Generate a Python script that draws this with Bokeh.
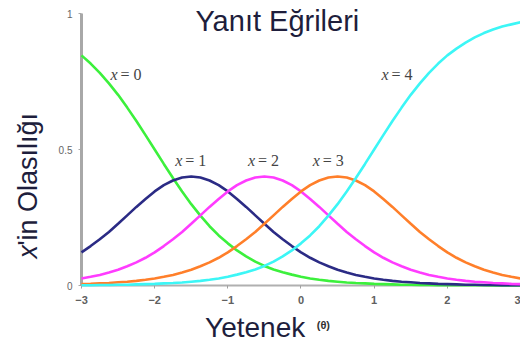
import math
from bokeh.plotting import figure
from bokeh.models import Label, Range1d, FixedTicker
from bokeh.embed import file_html
from bokeh.resources import INLINE

# Ability (theta) grid
theta = [-3.0, -2.875, -2.75, -2.625, -2.5, -2.375, -2.25, -2.125, -2.0, -1.875, -1.75, -1.625,
         -1.5, -1.375, -1.25, -1.125, -1.0, -0.875, -0.75, -0.625, -0.5, -0.375, -0.25, -0.125,
         0.0, 0.125, 0.25, 0.375, 0.5, 0.625, 0.75, 0.875, 1.0, 1.125, 1.25, 1.375, 1.5, 1.625,
         1.75, 1.875, 2.0, 2.125, 2.25, 2.375, 2.5, 2.625, 2.75, 2.875, 3.0]

# Probability of each response category
p_x0 = [0.846, 0.816, 0.782, 0.743, 0.701, 0.654, 0.605, 0.553, 0.500, 0.447, 0.395, 0.346,
        0.299, 0.257, 0.218, 0.184, 0.155, 0.129, 0.107, 0.088, 0.072, 0.059, 0.049, 0.040,
        0.032, 0.026, 0.021, 0.017, 0.014, 0.011, 0.009, 0.008, 0.006, 0.005, 0.004, 0.003,
        0.003, 0.002, 0.002, 0.001, 0.001, 0.001, 0.001, 0.001, 0.001, 0.000, 0.000, 0.000, 0.000]
p_x1 = [0.122, 0.145, 0.170, 0.197, 0.227, 0.258, 0.289, 0.318, 0.346, 0.369, 0.386, 0.397,
        0.401, 0.397, 0.386, 0.369, 0.346, 0.318, 0.289, 0.258, 0.227, 0.197, 0.170, 0.145,
        0.122, 0.102, 0.085, 0.071, 0.058, 0.048, 0.039, 0.032, 0.026, 0.021, 0.017, 0.014,
        0.012, 0.009, 0.008, 0.006, 0.005, 0.004, 0.003, 0.003, 0.002, 0.002, 0.001, 0.001, 0.001]
p_x2 = [0.026, 0.032, 0.039, 0.048, 0.058, 0.071, 0.085, 0.102, 0.122, 0.145, 0.170, 0.197,
        0.227, 0.258, 0.289, 0.318, 0.346, 0.369, 0.386, 0.397, 0.401, 0.397, 0.386, 0.369,
        0.346, 0.318, 0.289, 0.258, 0.227, 0.197, 0.170, 0.145, 0.122, 0.102, 0.085, 0.071,
        0.058, 0.048, 0.039, 0.032, 0.026, 0.021, 0.017, 0.014, 0.012, 0.009, 0.008, 0.006, 0.005]
p_x3 = [0.005, 0.006, 0.008, 0.009, 0.012, 0.014, 0.017, 0.021, 0.026, 0.032, 0.039, 0.048,
        0.058, 0.071, 0.085, 0.102, 0.122, 0.145, 0.170, 0.197, 0.227, 0.258, 0.289, 0.318,
        0.346, 0.369, 0.386, 0.397, 0.401, 0.397, 0.386, 0.369, 0.346, 0.318, 0.289, 0.258,
        0.227, 0.197, 0.170, 0.145, 0.122, 0.102, 0.085, 0.071, 0.058, 0.048, 0.039, 0.032, 0.026]
p_x4 = [0.001, 0.001, 0.002, 0.002, 0.003, 0.003, 0.004, 0.005, 0.006, 0.008, 0.009, 0.011,
        0.014, 0.017, 0.021, 0.026, 0.032, 0.040, 0.049, 0.059, 0.072, 0.088, 0.107, 0.129,
        0.155, 0.184, 0.218, 0.257, 0.299, 0.346, 0.395, 0.447, 0.500, 0.553, 0.605, 0.654,
        0.701, 0.743, 0.782, 0.816, 0.846, 0.871, 0.893, 0.912, 0.928, 0.941, 0.952, 0.960, 0.968]

series_names = ["0", "1", "2", "3", "4"]
series_values = [p_x0, p_x1, p_x2, p_x3, p_x4]
colors = ["#3cf03c", "#2b2b85", "#ff3cff", "#ff7f2a", "#3cf6f6"]

x_ticks = [-3, -2, -1, 0, 1, 2, 3]
y_ticks = [0, 0.5, 1]
y_tick_labels = {0: "0", 0.5: "0.5", 1: "1"}

title_text = "Yanıt Eğrileri"
y_label_italic = "x"
y_label_rest = "'in Olasılığı"
x_label_text = "Yetenek"
x_label_small = "(θ)"

# label anchor positions (theta, probability) for the curve annotations
label_pos = [(-2.605, 0.776), (-1.719, 0.46), (-0.725, 0.46), (0.161, 0.46), (1.101, 0.776)]

TEXT = "#1e1e3c"

# frame covers the whole canvas; axes are drawn at fixed data locations
p = figure(width=520, height=347, output_backend="svg", toolbar_location=None,
           x_range=Range1d(-4.107, 3.0), y_range=Range1d(-0.2279, 1.0478),
           min_border=0, min_border_left=0, min_border_right=0,
           min_border_top=0, min_border_bottom=0)
p.outline_line_color = None
p.grid.visible = False
p.background_fill_color = "white"
p.border_fill_color = "white"

for vals, c in zip(series_values, colors):
    p.line(theta, vals, line_color=c, line_width=2.6)

# axes styling
p.yaxis.fixed_location = -3
p.yaxis.bounds = (0, 1)
p.yaxis.level = "underlay"
p.yaxis.ticker = FixedTicker(ticks=y_ticks)
p.yaxis.major_label_overrides = y_tick_labels
p.yaxis.axis_line_color = "#a8a8a8"
p.yaxis.axis_line_width = 3
p.yaxis.major_tick_line_color = "#a8a8a8"
p.yaxis.major_tick_out = 3
p.yaxis.major_tick_in = 0
p.yaxis.minor_tick_line_color = None
p.yaxis.major_label_text_font = "Liberation Sans"
p.yaxis.major_label_text_font_size = "10px"
p.yaxis.major_label_text_color = "#666666"
p.yaxis.major_label_standoff = 6

p.xaxis.fixed_location = 0
p.xaxis.bounds = (-3, 3)
p.xaxis.level = "underlay"
p.xaxis.ticker = FixedTicker(ticks=x_ticks)
p.xaxis.axis_line_color = "#b0b0b0"
p.xaxis.axis_line_width = 2
p.xaxis.major_tick_line_color = "#a0a0a0"
p.xaxis.major_tick_out = 3
p.xaxis.major_tick_in = 0
p.xaxis.minor_tick_line_color = None
p.xaxis.major_label_text_font = "Liberation Sans"
p.xaxis.major_label_text_font_size = "11px"
p.xaxis.major_label_text_font_style = "bold"
p.xaxis.major_label_text_color = "#606060"
p.xaxis.major_label_standoff = 7

# title inside the plot
p.add_layout(Label(x=-0.323, y=0.971, text=title_text, text_align="center",
                   text_baseline="middle", text_font="Liberation Sans",
                   text_font_size="29px", text_color=TEXT))

# y axis label (rotated), italic x + rest
p.add_layout(Label(x=-3.736, y=0.099, text=y_label_italic, angle=math.pi / 2,
                   text_align="left", text_baseline="middle", text_font="Liberation Sans",
                   text_font_style="italic", text_font_size="27px", text_color=TEXT))
p.add_layout(Label(x=-3.736, y=0.099, y_offset=13, text=y_label_rest, angle=math.pi / 2,
                   text_align="left", text_baseline="middle", text_font="Liberation Sans",
                   text_font_size="27px", text_color=TEXT))

# x axis label
p.add_layout(Label(x=-1.311, y=-0.156, text=x_label_text, text_align="left",
                   text_baseline="middle", text_font="Liberation Sans",
                   text_font_size="28px", text_color=TEXT))
p.add_layout(Label(x=0.215, y=-0.147, text=x_label_small, text_align="left",
                   text_baseline="middle", text_font="Liberation Sans",
                   text_font_style="bold", text_font_size="11px", text_color="#333333"))

# curve labels
for name, (lx, ly) in zip(series_names, label_pos):
    p.add_layout(Label(x=lx, y=ly, text="x", text_align="left", text_baseline="middle",
                       text_font="Liberation Serif", text_font_style="italic",
                       text_font_size="16px", text_color="#444444"))
    p.add_layout(Label(x=lx, y=ly, x_offset=10, text="= " + name, text_align="left",
                       text_baseline="middle", text_font="Liberation Serif",
                       text_font_size="16px", text_color="#444444"))

open("out.html", "w").write(file_html(p, INLINE))
